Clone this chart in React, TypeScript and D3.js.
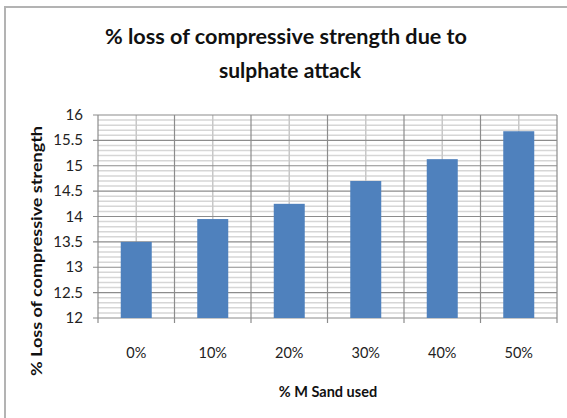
import React from "react";
import * as d3 from "d3";

// categorias y valores
const categories = ["0%", "10%", "20%", "30%", "40%", "50%"];
const lossValues = [13.5, 13.95, 14.25, 14.7, 15.13, 15.68];
const yTicks = [12, 12.5, 13, 13.5, 14, 14.5, 15, 15.5, 16];

const width = 567;
const height = 418;
const plot = { left: 98, right: 557, top: 115, bottom: 318 };

const App: React.FC = () => {
  const x = d3
    .scaleBand<string>()
    .domain(categories)
    .range([plot.left, plot.right])
    .paddingInner(0)
    .paddingOuter(0);

  const y = d3.scaleLinear().domain([12, 16]).range([plot.bottom, plot.top]);

  const minorTicks = d3.range(120, 161).map((d) => d / 10).filter((d) => Math.round(d * 10) % 5 !== 0);
  const barW = 31;
  const font = "Lato, 'Open Sans', sans-serif";

  return (
    <svg width={width} height={height} style={{ position: "absolute", left: 0, top: 0 }}>
      <rect x={0} y={0} width={width} height={height} fill="white" />
      {/* borde del grafico */}
      <line x1={5} y1={7} x2={5} y2={height} stroke="#b3b3b3" strokeWidth={2} />
      <line x1={4} y1={7} x2={width} y2={7} stroke="#b3b3b3" strokeWidth={2} />

      <text x={286} y={44} textAnchor="middle" fontFamily={font} fontWeight="bold" fontSize={21} fill="#111" textLength={362} lengthAdjust="spacingAndGlyphs">
        % loss of compressive strength due to
      </text>
      <text x={290} y={78} textAnchor="middle" fontFamily={font} fontWeight="bold" fontSize={21} fill="#111">
        sulphate attack
      </text>

      {/* lineas menores */}
      {minorTicks.map((t) => (
        <line key={"m" + t} x1={plot.left} x2={plot.right} y1={y(t)} y2={y(t)} stroke="#d6d6d6" strokeWidth={1.5} />
      ))}
      {/* lineas verticales al centro */}
      {categories.map((c) => (
        <line key={"vc" + c} x1={x(c)! + x.bandwidth() / 2} x2={x(c)! + x.bandwidth() / 2} y1={plot.top} y2={plot.bottom} stroke="#c8c8c8" strokeWidth={1.5} />
      ))}
      {/* lineas principales */}
      {yTicks.map((t) => (
        <line key={"M" + t} x1={plot.left - 5} x2={plot.right} y1={y(t)} y2={y(t)} stroke="#8c8c8c" strokeWidth={1.2} />
      ))}
      {categories.map((c) => (
        <line key={"vb" + c} x1={x(c)!} x2={x(c)!} y1={plot.top} y2={plot.bottom + 5} stroke="#8c8c8c" strokeWidth={1.2} />
      ))}
      <line x1={plot.right} x2={plot.right} y1={plot.top} y2={plot.bottom + 5} stroke="#8c8c8c" strokeWidth={1.2} />

      {/* barras */}
      {categories.map((c, i) => (
        <rect
          key={"b" + c}
          x={x(c)! + x.bandwidth() / 2 - barW / 2}
          y={y(lossValues[i])}
          width={barW}
          height={plot.bottom - y(lossValues[i])}
          fill="#4F81BD"
        />
      ))}

      {/* etiquetas eje y */}
      {yTicks.map((t) => (
        <text key={"yl" + t} x={83} y={y(t) + 5} textAnchor="end" fontFamily={font} fontSize={15} fill="#222">
          {t}
        </text>
      ))}
      {/* etiquetas eje x */}
      {categories.map((c) => (
        <text key={"xl" + c} x={x(c)! + x.bandwidth() / 2} y={358} textAnchor="middle" fontFamily={font} fontSize={14.5} fill="#222">
          {c}
        </text>
      ))}

      <text x={328} y={397} textAnchor="middle" fontFamily={font} fontWeight="bold" fontSize={14.5} fill="#111">
        % M Sand  used
      </text>
      <text
        transform={`translate(42,${251}) rotate(-90)`}
        textAnchor="middle"
        fontFamily={font}
        fontWeight="bold"
        fontSize={14.5}
        fill="#111"
        textLength={250}
        lengthAdjust="spacingAndGlyphs"
      >
        % Loss of compressive strength
      </text>
    </svg>
  );
};

export default App;
